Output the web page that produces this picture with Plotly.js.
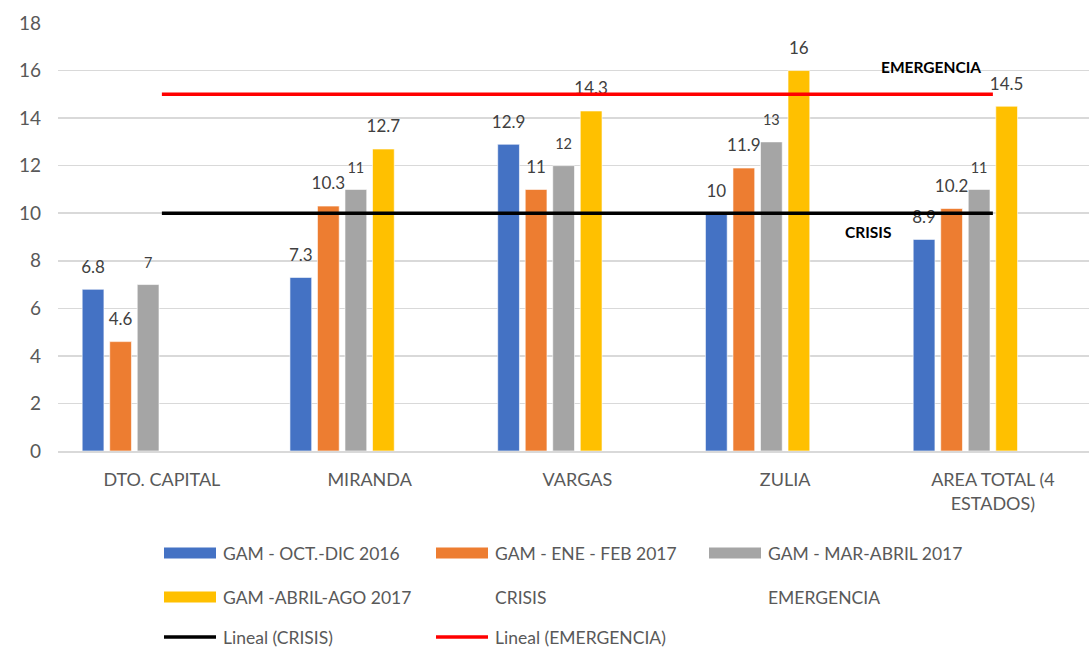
<!DOCTYPE html>
<html>
<head>
<meta charset="utf-8">
<script src="https://cdn.plot.ly/plotly-3.0.1.min.js"></script>
<style>html,body{margin:0;padding:0;background:#fff;}#chart{width:1089px;height:666px;}</style>
</head>
<body>
<div id="chart"></div>
<script>
// ---- data ----
const categories = ['DTO. CAPITAL', 'MIRANDA', 'VARGAS', 'ZULIA', 'AREA TOTAL (4<br>ESTADOS)'];
const seriesNames = ['GAM - OCT.-DIC 2016', 'GAM - ENE - FEB 2017', 'GAM - MAR-ABRIL 2017', 'GAM -ABRIL-AGO 2017', 'CRISIS', 'EMERGENCIA'];
const trendNames = ['Lineal (CRISIS)', 'Lineal (EMERGENCIA)'];
const octDic2016 = [6.8, 7.3, 12.9, 10, 8.9];
const eneFeb2017 = [4.6, 10.3, 11, 11.9, 10.2];
const marAbril2017 = [7, 11, 12, 13, 11];
const abrilAgo2017 = [null, 12.7, 14.3, 16, 14.5];
const crisis = [10, 10, 10, 10, 10];
const emergencia = [15, 15, 15, 15, 15];
const yTicks = [0, 2, 4, 6, 8, 10, 12, 14, 16, 18];

// ---- style ----
const FONT = 'Lato, "Open Sans", sans-serif';
const colors = ['#4472C4', '#ED7D31', '#A5A5A5', '#FFC000'];
const labelSizes = [17, 17, 14.5, 17];
const barValues = [octDic2016, eneFeb2017, marAbril2017, abrilAgo2017];

const L = 58, R = 1089, T = 23, B = 451;
const px = p => (p - L) / (R - L);
const py = p => (B - p) / (B - T);

const traces = [];
barValues.forEach((vals, i) => {
  traces.push({
    type: 'bar', x: categories, y: vals, name: seriesNames[i],
    marker: {color: colors[i], line: {color: 'rgba(255,255,255,0.6)', width: 1}},
    text: vals.map(v => v == null ? '' :
      '<span style="font-size:' + labelSizes[i] + 'px">' + String(v) + '</span><br>\u00a0'),
    textposition: 'outside', constraintext: 'none', cliponaxis: false,
    textfont: {family: FONT, size: 9, color: '#404040'},
    hoverinfo: 'x+y'
  });
});
[crisis, emergencia].forEach((vals, i) => {
  traces.push({
    type: 'bar', x: categories, y: vals, name: seriesNames[4 + i],
    marker: {color: 'rgba(0,0,0,0)'}, hoverinfo: 'skip'
  });
});
[[crisis, '#000000'], [emergencia, '#FF0000']].forEach(([vals, c], i) => {
  traces.push({
    type: 'scatter', mode: 'lines', x: categories, y: vals, name: trendNames[i],
    line: {color: c, width: 3.5}, hoverinfo: 'skip', cliponaxis: false
  });
});

// ---- custom legend ----
const shapes = [], annotations = [];
const legendRows = [553, 597, 637];
const legendCols = [164, 436, 709];
const legendItems = [
  {name: seriesNames[0], kind: 'rect', color: colors[0]},
  {name: seriesNames[1], kind: 'rect', color: colors[1]},
  {name: seriesNames[2], kind: 'rect', color: colors[2]},
  {name: seriesNames[3], kind: 'rect', color: colors[3]},
  {name: seriesNames[4], kind: 'none'},
  {name: seriesNames[5], kind: 'none'},
  {name: trendNames[0], kind: 'line', color: '#000000'},
  {name: trendNames[1], kind: 'line', color: '#FF0000'}
];
legendItems.forEach((it, k) => {
  const r = Math.floor(k / 3), c = k % 3;
  const x0 = legendCols[c], yc = legendRows[r];
  if (it.kind === 'rect') {
    shapes.push({type: 'rect', xref: 'paper', yref: 'paper', x0: px(x0), x1: px(x0 + 52), y0: py(yc - 5.5), y1: py(yc + 5.5),
      fillcolor: it.color, line: {width: 0}, layer: 'above'});
  } else if (it.kind === 'line') {
    shapes.push({type: 'line', xref: 'paper', yref: 'paper', x0: px(x0), x1: px(x0 + 52), y0: py(yc), y1: py(yc),
      line: {color: it.color, width: 3.5}, layer: 'above'});
  }
  annotations.push({xref: 'paper', yref: 'paper', x: px(x0 + 57), y: py(yc), xanchor: 'left', yanchor: 'middle',
    text: it.name, showarrow: false, font: {family: FONT, size: 17.5, color: '#595959'}});
});

// bold labels for the threshold lines
annotations.push({xref: 'x', yref: 'y', x: 3.70, y: 16.15, text: '<b>EMERGENCIA</b>', showarrow: false,
  font: {family: FONT, size: 15.5, color: '#000000'}});
annotations.push({xref: 'x', yref: 'y', x: 3.40, y: 9.2, text: '<b>CRISIS</b>', showarrow: false,
  font: {family: FONT, size: 15.5, color: '#000000'}});

const layout = {
  width: 1089, height: 666,
  margin: {l: L, r: 1089 - R, t: T, b: 666 - B, pad: 0},
  paper_bgcolor: '#ffffff', plot_bgcolor: '#ffffff',
  font: {family: FONT, color: '#595959'},
  barmode: 'group', bargap: 0.205, bargroupgap: 0.21,
  showlegend: false,
  xaxis: {
    type: 'category', range: [-0.5, (R - 163) / 207.5],
    showline: true, linecolor: '#D9D9D9', linewidth: 1.5,
    showgrid: false, zeroline: false, ticks: '',
    ticklabelstandoff: 12,
    tickfont: {family: FONT, size: 18, color: '#595959'}
  },
  yaxis: {
    range: [0, 18], tickvals: yTicks, ticktext: yTicks.map(String),
    showgrid: true, gridcolor: '#D9D9D9', gridwidth: 1.5,
    zeroline: false, showline: false, ticks: '',
    ticklabelstandoff: 16,
    tickfont: {family: FONT, size: 19, color: '#595959'}
  },
  shapes: shapes,
  annotations: annotations
};

Plotly.newPlot('chart', traces, layout, {displayModeBar: false, staticPlot: true});
</script>
</body>
</html>
